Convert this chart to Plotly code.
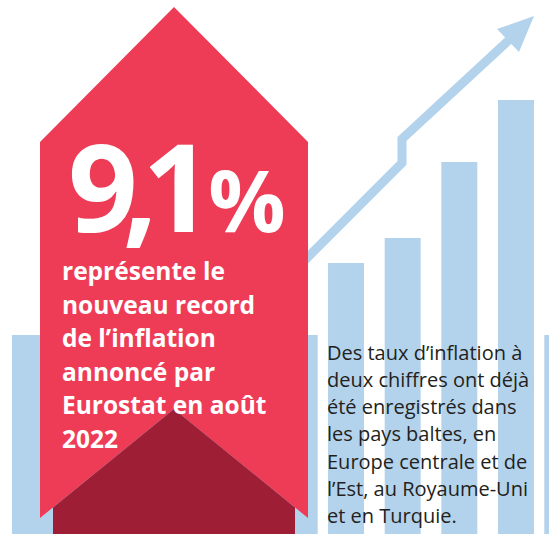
import plotly.graph_objects as go

W, H = 549, 534

# ---- data ----
bar_labels = ["A", "B", "C", "D"]
bar_values = [271, 296, 372, 434]

big_number = "9,1"
big_unit = "%"
left_lines = ["représente le", "nouveau record", "de l’inflation",
              "annoncé par", "Eurostat en août", "2022"]
right_lines = ["Des taux d’inflation à", "deux chiffres ont déjà",
               "été enregistrés dans", "les pays baltes, en",
               "Europe centrale et de", "l’Est, au Royaume-Uni",
               "et en Turquie."]

# ---- style ----
RED = "#EE3C57"
DARK_RED = "#9E1F35"
BLUE = "#B3D2EB"
TEXT_DARK = "#231F20"
FONT = "Open Sans"


def Y(py):
    return H - py


def path(points):
    return "M " + " L ".join(f"{x},{Y(y)}" for x, y in points) + " Z"


def line_path(points):
    return "M " + " L ".join(f"{x},{Y(y)}" for x, y in points)


fig = go.Figure()
fig.add_trace(go.Bar(x=bar_labels, y=bar_values, marker_color=BLUE,
                     marker_line_width=0, xaxis="x2", yaxis="y",
                     hoverinfo="skip"))

shapes = [
    dict(type="rect", x0=12, x1=549, y0=Y(534), y1=Y(335), fillcolor=BLUE,
         line_width=0, layer="below", xref="x", yref="y"),
    dict(type="path", path=line_path([(300, 265), (402, 163), (402, 139), (510, 39)]),
         line=dict(color=BLUE, width=9), layer="above", xref="x", yref="y"),
    dict(type="path", path=path([(534, 16), (497, 29), (519, 52)]),
         fillcolor=BLUE, line_width=0, layer="above", xref="x", yref="y"),
    dict(type="path", path=path([(40, 142), (174, 7), (308, 142), (308, 518),
                                 (174, 409), (40, 518)]),
         fillcolor=RED, line_width=0, layer="above", xref="x", yref="y"),
    dict(type="path", path=path([(53, 534), (53, 507.4), (174, 409), (295, 507.4),
                                 (295, 534)]),
         fillcolor=DARK_RED, line_width=0, layer="above", xref="x", yref="y"),
]

ann = []
big_size = 122
unit_size = 86
big_text = (f"<span style='letter-spacing:-15px'>{big_number[:2]}</span>"
            f"<span style='letter-spacing:-4px'>{big_number[2:]}</span>"
            f"<span style='font-size:{unit_size}px'>{big_unit}</span>")
ann.append(dict(x=66, y=Y(232 - 0.388 * big_size), text=big_text, xanchor="left",
                yanchor="middle", showarrow=False,
                font=dict(family=FONT, size=big_size, color="white", weight="bold")))

ls = 24.5
for i, t in enumerate(left_lines):
    base = 280 + i * 33.6
    ann.append(dict(x=60, y=Y(base - 0.388 * ls), text=t, xanchor="left",
                    yanchor="middle", showarrow=False,
                    font=dict(family=FONT, size=ls, color="white", weight="bold")))

rs = 20
for i, t in enumerate(right_lines):
    base = 360 + i * 27.2
    ann.append(dict(x=325, y=Y(base - 0.388 * rs), text=t, xanchor="left",
                    yanchor="middle", showarrow=False,
                    font=dict(family=FONT, size=rs, color=TEXT_DARK)))

fig.update_layout(
    width=W, height=H, margin=dict(l=0, r=0, t=0, b=0),
    paper_bgcolor="white", plot_bgcolor="white", showlegend=False,
    xaxis=dict(range=[0, W], visible=False, fixedrange=True, domain=[0, 1]),
    xaxis2=dict(domain=[317.7 / W, 544.3 / W], range=[-0.5, 3.5], visible=False,
                type="category", anchor="y", fixedrange=True),
    yaxis=dict(range=[0, H], visible=False, fixedrange=True),
    bargap=1 - 36 / 56.67,
    shapes=shapes, annotations=ann,
)

fig.write_html("out.html", config={"displayModeBar": False},
               post_script="document.body.style.margin='0';document.body.style.overflow='hidden';")
